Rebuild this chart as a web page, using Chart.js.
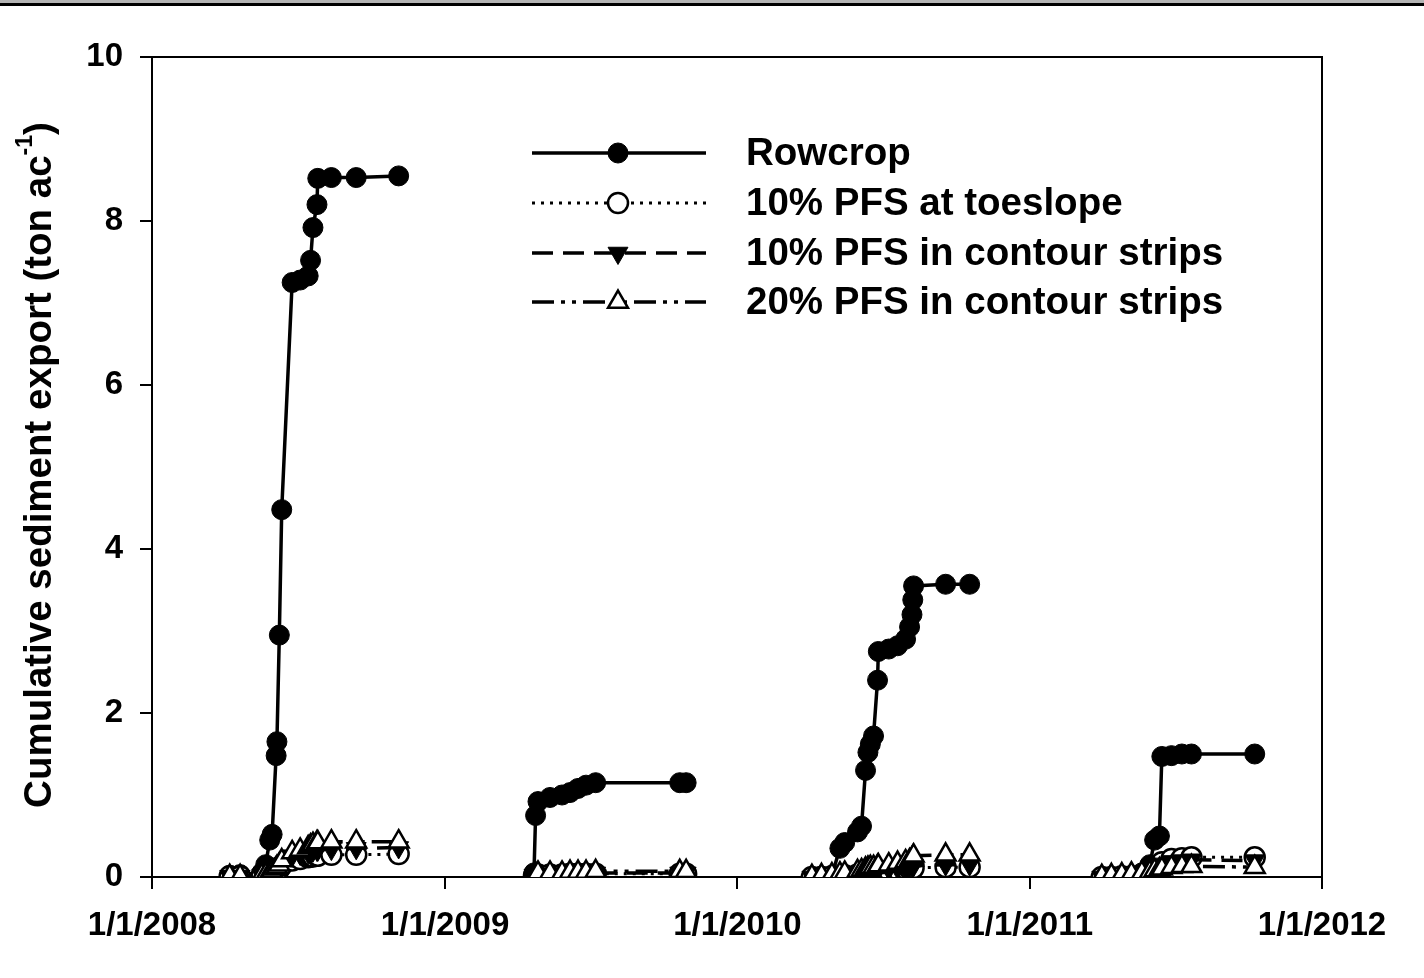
<!DOCTYPE html>
<html>
<head>
<meta charset="utf-8">
<script src="https://cdn.jsdelivr.net/npm/chart.js@4.4.1/dist/chart.umd.min.js"></script>
<style>
  html, body { margin: 0; padding: 0; background: #fff; }
  #wrap { position: relative; width: 1424px; height: 978px; }
  #topBand { position: absolute; left: 0; top: 0; width: 1424px; height: 3px; background: #b4b4b4; border-bottom: 3px solid #000; }
  canvas { position: absolute; left: 0; top: 0; }
</style>
</head>
<body>
<div id="wrap">
  <canvas id="chart" width="1424" height="978"></canvas>
  <div id="topBand"></div>
</div>
<script>
// x axis: 1/1/2008 .. 1/1/2012
const yearStarts = ["2008-01-01", "2009-01-01", "2010-01-01", "2011-01-01", "2012-01-01"];
const xTickLabels = ["1/1/2008", "1/1/2009", "1/1/2010", "1/1/2011", "1/1/2012"];
const yTicks = [0, 2, 4, 6, 8, 10];

// sampling dates (shared by all four treatments)
const sampleDates = [
  "2008-04-07", "2008-04-20", "2008-05-17", "2008-05-22", "2008-05-27", "2008-05-30", "2008-06-04",
  "2008-06-05", "2008-06-08", "2008-06-11", "2008-06-24", "2008-07-04", "2008-07-14", "2008-07-17",
  "2008-07-20", "2008-07-25", "2008-07-26", "2008-08-12", "2008-09-12", "2008-11-04",
  "2009-04-22", "2009-04-24", "2009-04-27", "2009-05-12", "2009-05-27", "2009-06-06", "2009-06-16",
  "2009-06-26", "2009-07-08", "2009-10-21", "2009-10-29",
  "2010-04-04", "2010-04-16", "2010-04-29", "2010-05-09", "2010-05-15", "2010-05-31", "2010-06-05",
  "2010-06-10", "2010-06-13", "2010-06-16", "2010-06-20", "2010-06-25", "2010-06-26", "2010-07-09",
  "2010-07-20", "2010-07-30", "2010-08-04", "2010-08-07", "2010-08-08", "2010-08-09", "2010-09-18",
  "2010-10-18",
  "2011-04-01", "2011-04-13", "2011-04-26", "2011-05-08", "2011-05-21", "2011-05-31", "2011-06-06",
  "2011-06-12", "2011-06-15", "2011-06-27", "2011-07-10", "2011-07-22", "2011-10-09"
];

const rowcrop = [
  0.02, 0.03, 0.05, 0.15, 0.45, 0.52, 1.48, 1.65, 2.95, 4.48, 7.25, 7.28, 7.33, 7.52, 7.92, 8.2, 8.52, 8.53, 8.53, 8.55,
  0.05, 0.75, 0.92, 0.97, 1.0, 1.03, 1.08, 1.12, 1.15, 1.15, 1.15,
  0.0, 0.01, 0.02, 0.35, 0.42, 0.55, 0.62, 1.3, 1.52, 1.62, 1.72, 2.4, 2.75, 2.78, 2.82, 2.9, 3.05, 3.2, 3.38, 3.55, 3.57, 3.57,
  0.0, 0.0, 0.0, 0.01, 0.05, 0.15, 0.45, 0.5, 1.47, 1.48, 1.5, 1.5, 1.5
];
const pfsToeslope10 = [
  0.01, 0.01, 0.02, 0.03, 0.04, 0.05, 0.06, 0.08, 0.1, 0.14, 0.2, 0.22, 0.24, 0.25, 0.25, 0.26, 0.26, 0.27, 0.27, 0.28,
  0.02, 0.03, 0.03, 0.03, 0.03, 0.04, 0.04, 0.04, 0.04, 0.04, 0.04,
  0.0, 0.0, 0.01, 0.01, 0.02, 0.03, 0.04, 0.05, 0.05, 0.06, 0.06, 0.07, 0.08, 0.08, 0.09, 0.1, 0.1, 0.11, 0.11, 0.11, 0.12, 0.12,
  0.0, 0.0, 0.01, 0.01, 0.02, 0.04, 0.08, 0.1, 0.18, 0.22, 0.23, 0.24, 0.24
];
const pfsContour10 = [
  0.01, 0.01, 0.02, 0.03, 0.05, 0.06, 0.08, 0.1, 0.12, 0.16, 0.26, 0.28, 0.3, 0.31, 0.32, 0.33, 0.33, 0.34, 0.35, 0.36,
  0.02, 0.03, 0.03, 0.03, 0.04, 0.04, 0.05, 0.05, 0.05, 0.05, 0.05,
  0.0, 0.0, 0.01, 0.02, 0.03, 0.04, 0.05, 0.06, 0.07, 0.08, 0.08, 0.09, 0.1, 0.1, 0.11, 0.12, 0.13, 0.14, 0.14, 0.14, 0.15, 0.15,
  0.0, 0.0, 0.01, 0.02, 0.03, 0.05, 0.09, 0.11, 0.16, 0.19, 0.2, 0.21, 0.2
];
const pfsContour20 = [
  0.01, 0.01, 0.02, 0.03, 0.05, 0.07, 0.1, 0.12, 0.15, 0.2, 0.3, 0.33, 0.36, 0.38, 0.4, 0.42, 0.42, 0.43, 0.43, 0.43,
  0.03, 0.04, 0.05, 0.05, 0.05, 0.06, 0.06, 0.06, 0.07, 0.07, 0.07,
  0.01, 0.02, 0.03, 0.04, 0.05, 0.07, 0.08, 0.1, 0.11, 0.12, 0.12, 0.13, 0.14, 0.15, 0.17, 0.19, 0.2, 0.22, 0.24, 0.26, 0.27, 0.27,
  0.01, 0.02, 0.03, 0.04, 0.05, 0.06, 0.08, 0.09, 0.1, 0.12, 0.13, 0.13, 0.12
];

const FONT = "'Liberation Sans', Arial, sans-serif";
const dayMs = 86400000;

function dayOffset(s) {
  const [y, m, d] = s.split("-").map(Number);
  return (Date.UTC(y, m - 1, d) - Date.UTC(2008, 0, 1)) / dayMs;
}

const yearStartDays = yearStarts.map(dayOffset);

function yearOf(x) {
  let i = 0;
  while (i < yearStartDays.length - 1 && x >= yearStartDays[i + 1]) i++;
  return i;
}

function points(values) {
  return sampleDates.map((d, i) => ({ x: dayOffset(d), y: values[i] }));
}

// no line joining the separate monitoring seasons
const seasonSegment = {
  borderColor: (ctx) => (yearOf(ctx.p0.parsed.x) !== yearOf(ctx.p1.parsed.x) ? "rgba(0,0,0,0)" : undefined)
};

const datasets = [
  {
    label: "Rowcrop",
    data: points(rowcrop),
    borderColor: "#000", borderWidth: 3.5, borderDash: [],
    pointStyle: "circle", pointRadius: 10, pointBackgroundColor: "#000", pointBorderColor: "#000", pointBorderWidth: 1,
    order: 4
  },
  {
    label: "10% PFS at toeslope",
    data: points(pfsToeslope10),
    borderColor: "#000", borderWidth: 3, borderDash: [3, 6],
    pointStyle: "circle", pointRadius: 10, pointBackgroundColor: "#fff", pointBorderColor: "#000", pointBorderWidth: 2.5,
    order: 3
  },
  {
    label: "10% PFS in contour strips",
    data: points(pfsContour10),
    borderColor: "#000", borderWidth: 3.5, borderDash: [21, 10],
    pointStyle: "triangle", pointRotation: 180, pointRadius: 11.5, pointBackgroundColor: "#000", pointBorderColor: "#000", pointBorderWidth: 1,
    order: 2
  },
  {
    label: "20% PFS in contour strips",
    data: points(pfsContour20),
    borderColor: "#000", borderWidth: 3.5, borderDash: [22, 7, 4, 7, 4, 7],
    pointStyle: "triangle", pointRotation: 0, pointRadius: 11.5, pointBackgroundColor: "#fff", pointBorderColor: "#000", pointBorderWidth: 2.5,
    order: 1
  }
];
datasets.forEach(ds => {
  ds.segment = seasonSegment;
  ds.tension = 0;
  ds.fill = false;
  ds.pointHoverRadius = ds.pointRadius;
});

function drawMarker(ctx, ds, x, y) {
  const r = ds.pointRadius;
  ctx.save();
  ctx.setLineDash([]);
  ctx.fillStyle = ds.pointBackgroundColor;
  ctx.strokeStyle = ds.pointBorderColor;
  ctx.lineWidth = ds.pointBorderWidth;
  ctx.beginPath();
  if (ds.pointStyle === "circle") {
    ctx.arc(x, y, r, 0, Math.PI * 2);
  } else {
    let rad = (ds.pointRotation || 0) * Math.PI / 180;
    for (let k = 0; k < 3; k++) {
      const px = x + Math.sin(rad) * r, py = y - Math.cos(rad) * r;
      if (k === 0) ctx.moveTo(px, py); else ctx.lineTo(px, py);
      rad += 2 * Math.PI / 3;
    }
    ctx.closePath();
  }
  ctx.fill();
  ctx.stroke();
  ctx.restore();
}

const framePlugin = {
  id: "frame",
  afterDatasetsDraw(chart) {
    const { ctx, chartArea: a } = chart;
    ctx.save();
    ctx.strokeStyle = "#000";
    ctx.lineWidth = 2;
    ctx.beginPath();
    ctx.moveTo(a.left, a.top);
    ctx.lineTo(a.right, a.top);
    ctx.lineTo(a.right, a.bottom);
    ctx.stroke();
    ctx.restore();
  }
};

const legendPlugin = {
  id: "lineLegend",
  afterDraw(chart) {
    const ctx = chart.ctx;
    const rowY = [153, 203, 253, 302];
    const x0 = 532, x1 = 706, xm = 618, xt = 746;
    chart.data.datasets.forEach((ds, i) => {
      const y = rowY[i];
      ctx.save();
      ctx.strokeStyle = ds.borderColor;
      ctx.lineWidth = ds.borderWidth;
      ctx.setLineDash(ds.borderDash);
      ctx.beginPath();
      ctx.moveTo(x0, y);
      ctx.lineTo(x1, y);
      ctx.stroke();
      ctx.restore();
      drawMarker(ctx, ds, xm, y);
      ctx.save();
      ctx.fillStyle = "#000";
      ctx.font = "bold 38.5px " + FONT;
      ctx.textAlign = "left";
      ctx.textBaseline = "middle";
      ctx.fillText(ds.label, xt, y + 1);
      ctx.restore();
    });
  }
};

const yTitlePlugin = {
  id: "yTitle",
  afterDraw(chart) {
    const ctx = chart.ctx;
    const a = chart.chartArea;
    const main = "Cumulative sediment export (ton ac";
    const sup = "-1";
    const close = ")";
    ctx.save();
    ctx.translate(40, (a.top + a.bottom) / 2 - 2);
    ctx.rotate(-Math.PI / 2);
    ctx.fillStyle = "#000";
    ctx.textBaseline = "middle";
    ctx.textAlign = "left";
    const bigFont = "bold 38.5px " + FONT;
    const supFont = "bold 23px " + FONT;
    ctx.font = bigFont;
    const wMain = ctx.measureText(main).width;
    const wClose = ctx.measureText(close).width;
    ctx.font = supFont;
    const wSup = ctx.measureText(sup).width;
    const total = wMain + wSup + wClose;
    let x = -total / 2;
    ctx.font = bigFont;
    ctx.fillText(main, x, 0);
    x += wMain;
    ctx.font = supFont;
    ctx.fillText(sup, x, -14);
    x += wSup;
    ctx.font = bigFont;
    ctx.fillText(close, x, 0);
    ctx.restore();
  }
};

new Chart(document.getElementById("chart"), {
  type: "line",
  data: { datasets },
  options: {
    responsive: false,
    animation: false,
    devicePixelRatio: 1,
    layout: { padding: { top: 57, right: 102, left: 0, bottom: 0 } },
    plugins: {
      legend: { display: false },
      tooltip: { enabled: false }
    },
    scales: {
      x: {
        type: "linear",
        min: yearStartDays[0],
        max: yearStartDays[yearStartDays.length - 1],
        afterBuildTicks: (scale) => {
          scale.ticks = yearStartDays.map(v => ({ value: v }));
        },
        afterFit: (scale) => { scale.height = 101; },
        ticks: {
          autoSkip: false,
          maxRotation: 0,
          padding: 17,
          color: "#000",
          font: { family: FONT, size: 33, weight: "bold" },
          callback: (v) => xTickLabels[yearStartDays.indexOf(v)]
        },
        grid: { drawOnChartArea: false, drawTicks: true, tickLength: 12, color: "#000", lineWidth: 2 },
        border: { display: true, color: "#000", width: 2 }
      },
      y: {
        min: yTicks[0],
        max: yTicks[yTicks.length - 1],
        afterBuildTicks: (scale) => {
          scale.ticks = yTicks.map(v => ({ value: v }));
        },
        afterFit: (scale) => { scale.width = 152; },
        ticks: {
          padding: 17,
          color: "#000",
          font: { family: FONT, size: 33, weight: "bold" },
          callback: (v) => String(v)
        },
        grid: { drawOnChartArea: false, drawTicks: true, tickLength: 12, color: "#000", lineWidth: 2 },
        border: { display: true, color: "#000", width: 2 }
      }
    }
  },
  plugins: [framePlugin, legendPlugin, yTitlePlugin]
});
</script>
</body>
</html>
